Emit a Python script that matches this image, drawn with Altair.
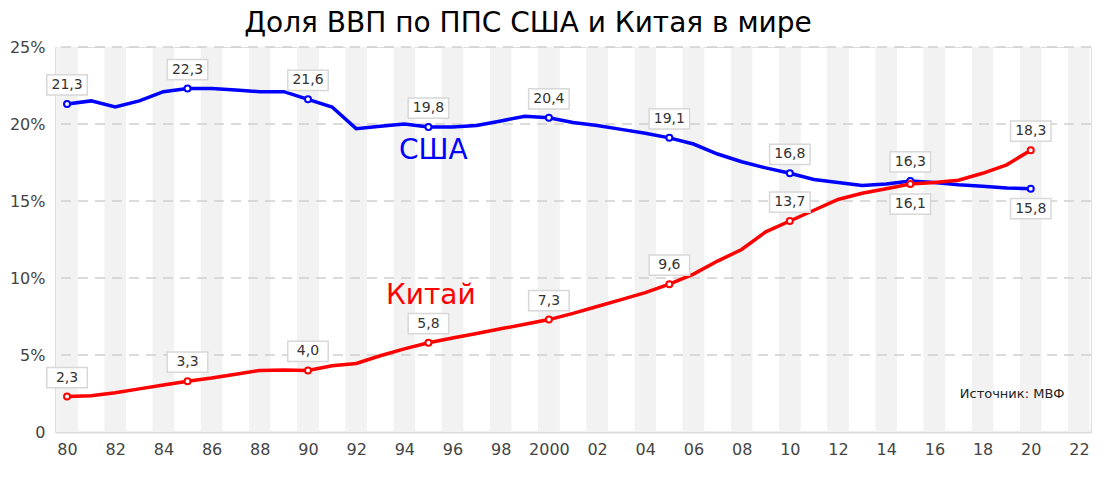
import altair as alt
import pandas as pd

years = list(range(1980, 2021))
usa = [21.3, 21.5, 21.1, 21.5, 22.1, 22.3, 22.3, 22.2, 22.1, 22.1,
       21.6, 21.1, 19.7, 19.85, 20.0, 19.8, 19.8, 19.9, 20.2, 20.5,
       20.4, 20.1, 19.9, 19.65, 19.4, 19.1, 18.7, 18.05, 17.55, 17.15,
       16.8, 16.4, 16.2, 16.0, 16.1, 16.3, 16.2, 16.05, 15.95, 15.85, 15.8]
china = [2.3, 2.35, 2.55, 2.8, 3.05, 3.3, 3.5, 3.75, 4.0, 4.03,
         4.0, 4.3, 4.45, 4.95, 5.4, 5.8, 6.1, 6.4, 6.7, 7.0,
         7.3, 7.7, 8.15, 8.6, 9.05, 9.6, 10.25, 11.1, 11.85, 13.0,
         13.7, 14.4, 15.1, 15.5, 15.8, 16.1, 16.2, 16.35, 16.8, 17.35, 18.3]
series_names = ["США", "Китай"]
series_colors = ["#0000ff", "#ff0000"]
labeled_years = [1980, 1985, 1990, 1995, 2000, 2005, 2010, 2015, 2020]
band_years = list(range(1980, 2023, 2))
x_ticks = list(range(1980, 2023, 2))
y_ticks = [0, 5, 10, 15, 20, 25]
grid_values = [5, 10, 15, 20, 25]
title_text = "Доля ВВП по ППС США и Китая в мире"
series_label_x = [1995.2, 1995.1]
series_label_y = [18.25, 8.85]
source_text = "Источник: МВФ"
source_x = 2021.4
source_y = 2.47

FONT = "DejaVu Sans"
W, H = 1036, 385

rows = []
for y, u, c in zip(years, usa, china):
    rows.append({"year": y, "value": u, "series": series_names[0]})
    rows.append({"year": y, "value": c, "series": series_names[1]})
df = pd.DataFrame(rows)

lab_rows = []
for y, u, c in zip(years, usa, china):
    if y in labeled_years:
        close = abs(u - c) < 3
        lab_rows.append({"year": y, "value": u, "series": series_names[0],
                         "text": f"{u:.1f}".replace(".", ","), "above": (u >= c) or not close})
        lab_rows.append({"year": y, "value": c, "series": series_names[1],
                         "text": f"{c:.1f}".replace(".", ","), "above": (c > u) or not close})
lab_df = pd.DataFrame(lab_rows)

band_df = pd.DataFrame({"year": band_years})
grid_df = pd.DataFrame({"v": grid_values})
name_df = pd.DataFrame({"name": series_names, "x": series_label_x, "y": series_label_y})
src_df = pd.DataFrame({"t": [source_text], "x": [source_x], "y": [source_y]})
title_df = pd.DataFrame({"t": [title_text]})

xscale = alt.Scale(domain=[1979.5, 2022.5], nice=False, zero=False)
yscale = alt.Scale(domain=[0, 25], nice=False)
color = alt.Color("series:N", scale=alt.Scale(domain=series_names, range=series_colors), legend=None)

xaxis = alt.Axis(values=x_ticks, title=None, grid=False, ticks=False,
                 labelExpr="datum.value == 2000 ? '2000' : substring(toString(datum.value), 2, 4)",
                 labelFont=FONT, labelFontSize=16, labelColor="#444", labelPadding=9,
                 domainColor="#dddddd", domainWidth=2, labelFlush=False)
yaxis = alt.Axis(values=y_ticks, title=None, grid=False, ticks=False, domain=False,
                 labelExpr="datum.value == 0 ? '0' : datum.value + '%'",
                 labelFont=FONT, labelFontSize=16, labelColor="#444", labelPadding=10)

bands = alt.Chart(band_df).transform_calculate(
    x0="datum.year - 0.45", x1="datum.year + 0.45"
).mark_rect(color="#f2f2f2").encode(
    x=alt.X("x0:Q", scale=xscale, axis=xaxis), x2="x1:Q",
    y=alt.value(0), y2=alt.value(H)
)

grid = alt.Chart(grid_df).mark_rule(color="#d0d0d0", strokeDash=[10, 7], strokeWidth=1.5).encode(
    y=alt.Y("v:Q", scale=yscale, axis=yaxis)
)

lines = alt.Chart(df).mark_line(strokeWidth=3.5, interpolate="linear").encode(
    x=alt.X("year:Q", scale=xscale, axis=xaxis),
    y=alt.Y("value:Q", scale=yscale, axis=yaxis),
    color=color, detail="series:N"
)

pts = alt.Chart(lab_df).mark_point(filled=True, fill="white", size=36, strokeWidth=2, opacity=1).encode(
    x=alt.X("year:Q", scale=xscale), y=alt.Y("value:Q", scale=yscale),
    stroke=alt.Stroke("series:N", scale=alt.Scale(domain=series_names, range=series_colors), legend=None)
)

box_shape = "M-1,-0.5H1V0.5H-1Z"
def label_layer(above, dy):
    base = alt.Chart(lab_df).transform_filter(
        "datum.above" if above else "!datum.above"
    )
    boxes = base.mark_point(shape=box_shape, size=1640, filled=True, fill="white",
                            stroke="#d8d8d8", strokeWidth=1.5, opacity=1, yOffset=dy).encode(
        x=alt.X("year:Q", scale=xscale), y=alt.Y("value:Q", scale=yscale)
    )
    texts = base.mark_text(font=FONT, fontSize=14, color="#333", yOffset=dy, baseline="middle").encode(
        x=alt.X("year:Q", scale=xscale), y=alt.Y("value:Q", scale=yscale), text="text:N"
    )
    return boxes + texts

names = alt.Chart(name_df).mark_text(font=FONT, fontSize=28, baseline="middle").encode(
    x=alt.X("x:Q", scale=xscale), y=alt.Y("y:Q", scale=yscale), text="name:N",
    color=alt.Color("name:N", scale=alt.Scale(domain=series_names, range=series_colors), legend=None)
)

src = alt.Chart(src_df).mark_text(font=FONT, fontSize=13, color="#222", align="right", baseline="middle").encode(
    x=alt.X("x:Q", scale=xscale), y=alt.Y("y:Q", scale=yscale), text="t:N"
)

title = alt.Chart(title_df).mark_text(font=FONT, fontSize=28, color="#000", align="center",
                                      baseline="alphabetic").encode(
    x=alt.value(528 - 55), y=alt.value(32 - 47), text="t:N"
)

chart = alt.layer(
    bands, grid, lines, pts, label_layer(True, -19), label_layer(False, 20), names, src, title
).properties(
    width=W, height=H,
    autosize=alt.AutoSizeParams(type="none"),
    padding={"left": 55, "top": 47, "right": 13, "bottom": 46},
).resolve_scale(color="independent").configure_view(stroke=None).configure(background="white")

chart.save("out.html", embed_options={"renderer": "svg", "actions": False})
